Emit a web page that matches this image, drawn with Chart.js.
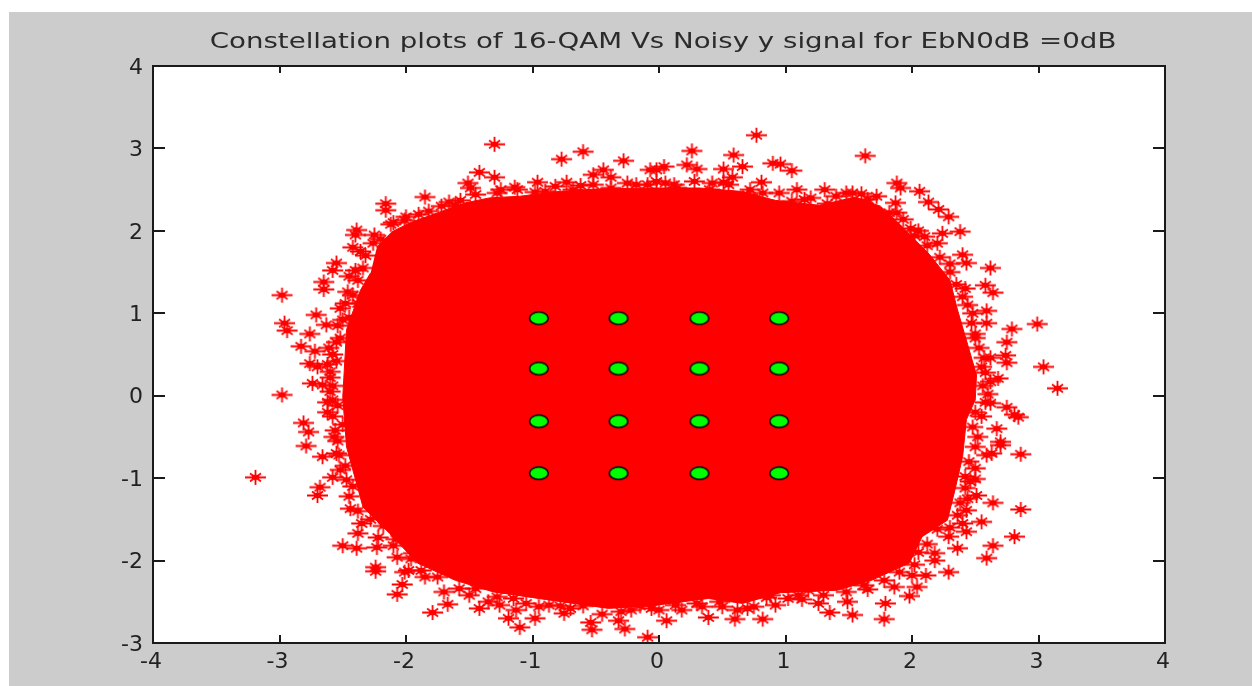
<!DOCTYPE html>
<html>
<head>
<meta charset="utf-8">
<script src="https://cdn.jsdelivr.net/npm/chart.js@4"></script>
<style>
html,body{margin:0;padding:0;background:#fff;width:1252px;height:686px;overflow:hidden}
#panel{position:absolute;left:9px;top:12px;width:1243px;height:674px;background:#cccccc}
#c{position:absolute;left:74px;top:12px}
</style>
</head>
<body>
<div id="panel"></div>
<canvas id="c" width="1178" height="674"></canvas>
<script>
const titleText = 'Constellation plots of 16-QAM Vs Noisy y signal for EbN0dB =0dB';
const xTicks = [-4,-3,-2,-1,0,1,2,3,4];
const yTicks = [-3,-2,-1,0,1,2,3,4];
const qamX = [-0.95,-0.32,0.32,0.95];
const qamY = [0.94,0.33,-0.31,-0.94];
// solid core of the received cloud, read around its edge
const cloudEdge = [[-2.23,1.80],[-2.11,1.99],[-1.95,2.11],[-1.73,2.23],[-1.53,2.34],[-1.34,2.40],[-1.10,2.42],[-0.78,2.48],[-0.47,2.51],[-0.07,2.52],[0.32,2.52],[0.64,2.48],[0.92,2.37],[1.27,2.31],[1.55,2.41],[1.75,2.30],[1.91,2.07],[2.14,1.71],[2.30,1.40],[2.36,1.04],[2.44,0.62],[2.51,0.25],[2.50,-0.05],[2.43,-0.29],[2.40,-0.74],[2.34,-1.14],[2.28,-1.51],[2.08,-1.71],[1.98,-2.03],[1.68,-2.24],[1.41,-2.36],[0.96,-2.39],[0.66,-2.52],[0.39,-2.46],[-0.07,-2.55],[-0.40,-2.58],[-0.86,-2.48],[-1.31,-2.38],[-1.61,-2.24],[-1.91,-2.03],[-2.13,-1.67],[-2.34,-1.35],[-2.47,-0.62],[-2.50,-0.02],[-2.47,0.80],[-2.36,1.28],[-2.28,1.49]];
// individually visible received samples around the cloud
const leftStars = [[-2.98,1.22],[-2.96,0.88],[-2.94,0.79],[-2.98,0.01],[-2.81,-0.33],[-2.77,-0.44],[-2.79,-0.61],[-3.19,-0.99],[-2.66,-0.74],[-2.70,-1.21],[-2.68,-1.11],[-2.57,-0.50],[-2.74,0.15],[-2.66,0.13],[-2.76,0.39],[-2.70,0.35],[-2.83,0.60],[-2.72,0.54],[-2.61,0.58],[-2.76,0.75],[-2.71,0.98],[-2.63,0.86],[-2.65,1.38],[-2.65,1.29],[-2.55,1.61],[-2.58,1.52],[-2.40,1.52],[-2.46,1.26],[-2.52,1.06],[-2.40,1.95],[-2.42,1.80],[-2.26,1.85],[-2.62,-0.08],[-2.62,-0.20],[-2.58,-0.99],[-2.60,0.29],[-2.55,-0.70],[-2.44,-1.37],[-2.50,-1.82],[-2.38,-1.67],[-2.39,-1.85],[-2.24,-2.08],[-2.24,-2.13],[-2.01,-2.14],[-2.03,-2.29],[-2.07,-2.41],[-2.23,-1.84],[-2.07,-1.96],[-1.94,-1.91]];
const bottomStars = [[-1.79,-2.63],[-1.67,-2.53],[-1.42,-2.58],[-1.26,-2.54],[-1.19,-2.70],[-1.10,-2.81],[-0.98,-2.70],[-1.13,-2.60],[-0.75,-2.64],[-0.87,-2.54],[-0.54,-2.75],[-0.53,-2.84],[-0.27,-2.83],[-0.32,-2.73],[-0.09,-2.93],[0.06,-2.73],[-0.06,-2.58],[0.13,-2.54],[0.39,-2.69],[0.34,-2.56],[0.60,-2.71],[0.82,-2.71],[0.70,-2.58],[0.92,-2.54],[1.13,-2.47],[1.35,-2.63],[1.26,-2.52],[1.53,-2.66],[1.49,-2.50],[1.78,-2.71],[1.79,-2.52],[1.98,-2.43],[2.04,-2.32],[2.11,-2.18],[1.86,-2.32]];
const rightStars = [[2.29,-2.14],[2.18,-1.91],[2.36,-1.85],[2.59,-1.97],[2.64,-1.82],[2.81,-1.71],[2.43,-1.65],[2.29,-1.71],[2.55,-1.53],[2.43,-1.39],[2.64,-1.30],[2.86,-1.38],[2.51,-1.21],[2.46,-1.04],[2.86,-0.71],[2.70,-0.60],[2.59,-0.72],[2.62,1.55],[2.43,1.61],[2.40,1.71],[2.58,1.34],[2.64,1.25],[2.59,1.03],[2.59,0.88],[2.79,0.81],[2.99,0.87],[2.75,0.65],[2.74,0.49],[2.75,0.40],[3.04,0.35],[3.15,0.09],[2.68,0.21],[2.62,0.17],[2.62,0.46],[2.62,-0.09],[2.75,-0.14],[2.81,-0.23],[2.84,-0.26],[2.67,-0.40],[2.70,-0.56],[2.63,-0.70],[2.50,-1.01]];
const topStars = [[1.63,2.91],[1.88,2.58],[1.91,2.52],[2.06,2.48],[2.13,2.35],[2.21,2.26],[2.29,2.17],[1.87,2.34],[1.88,2.22],[1.99,2.03],[2.38,1.99],[2.24,1.97],[2.10,1.93],[-1.30,3.05],[-0.77,2.87],[-0.60,2.96],[-0.28,2.85],[-0.44,2.74],[-0.02,2.74],[-0.07,2.74],[0.04,2.78],[0.26,2.97],[0.22,2.80],[0.30,2.75],[0.59,2.92],[0.77,3.16],[0.51,2.75],[0.66,2.78],[0.90,2.82],[0.96,2.81],[1.05,2.73],[-1.42,2.71],[-1.30,2.65],[-1.51,2.58],[-1.49,2.52],[-1.14,2.53],[-0.96,2.59],[-0.73,2.59],[-0.52,2.68],[-0.38,2.65],[-0.09,2.56],[0.14,2.52],[0.51,2.59],[0.58,2.65],[0.81,2.59],[1.09,2.50],[1.31,2.50],[1.53,2.46],[-1.57,2.37],[-1.85,2.41],[-2.16,2.33],[-2.16,2.25],[-2.39,2.01],[-2.01,2.13],[-1.61,2.31]];
const fringeStars = [[-2.45,1.45],[-2.38,1.12],[-2.45,0.95],[-2.52,0.70],[-2.55,0.42],[-2.58,0.12],[-2.54,-0.12],[-2.50,-0.35],[-2.48,-0.85],[-2.42,-1.10],[-2.35,-1.55],[-2.22,-1.72],[-2.10,-1.82],[-1.98,-2.12],[-1.85,-2.20],[-1.70,-2.38],[-1.50,-2.42],[-1.35,-2.50],[-1.05,-2.52],[-0.70,-2.58],[-0.22,-2.60],[0.18,-2.60],[0.50,-2.56],[0.85,-2.45],[1.10,-2.42],[1.65,-2.35],[2.00,-2.18],[2.18,-2.00],[2.40,-1.55],[2.44,-1.25],[2.50,-0.88],[2.52,-0.50],[2.55,-0.25],[2.60,0.02],[2.55,0.35],[2.50,0.70],[2.48,1.00],[2.42,1.30],[2.30,1.60],[2.20,1.85],[2.05,2.00],[1.65,2.38],[1.40,2.42],[1.15,2.38],[0.72,2.50],[0.42,2.58],[0.05,2.58],[-0.25,2.58],[-0.62,2.55],[-0.90,2.48],[-1.25,2.50],[-1.72,2.30],[-1.90,2.20],[-2.10,2.10],[-2.25,1.95],[-2.32,1.70]];
const innerFringeStars = [[-2.20,1.90],[-2.12,2.08],[-2.00,2.17],[-1.82,2.24],[-1.66,2.35],[-1.45,2.44],[-1.28,2.46],[-1.12,2.50],[-0.98,2.47],[-0.82,2.54],[-0.68,2.50],[-0.52,2.56],[-0.38,2.52],[-0.18,2.56],[-0.02,2.60],[0.12,2.56],[0.28,2.60],[0.40,2.50],[0.55,2.56],[0.70,2.44],[0.82,2.46],[0.95,2.46],[1.05,2.36],[1.20,2.40],[1.33,2.33],[1.48,2.46],[1.60,2.45],[1.72,2.42],[1.82,2.22],[1.93,2.14],[2.02,1.94],[2.12,1.82],[2.22,1.68],[2.30,1.50],[2.35,1.35],[2.40,1.20],[2.44,1.10],[2.47,0.88],[2.50,0.75],[2.53,0.58],[2.57,0.46],[2.58,0.28],[2.56,0.12],[2.58,-0.08],[2.50,-0.20],[2.48,-0.38],[2.50,-0.62],[2.45,-0.80],[2.42,-0.98],[2.42,-1.12],[2.38,-1.30],[2.36,-1.45],[2.30,-1.60],[2.20,-1.62],[2.12,-1.80],[2.05,-1.90],[2.02,-2.05],[1.90,-2.14],[1.78,-2.24],[1.62,-2.30],[1.48,-2.38],[1.30,-2.42],[1.18,-2.36],[1.02,-2.46],[0.88,-2.42],[0.75,-2.56],[0.62,-2.60],[0.48,-2.50],[0.30,-2.52],[0.12,-2.48],[0.00,-2.60],[-0.15,-2.55],[-0.30,-2.62],[-0.45,-2.65],[-0.60,-2.55],[-0.78,-2.55],[-0.95,-2.56],[-1.15,-2.46],[-1.28,-2.44],[-1.45,-2.34],[-1.58,-2.34],[-1.75,-2.20],[-1.88,-2.12],[-1.96,-1.98],[-2.08,-1.74],[-2.18,-1.58],[-2.28,-1.50],[-2.38,-1.40],[-2.45,-1.22],[-2.47,-1.02],[-2.52,-0.90],[-2.53,-0.72],[-2.54,-0.55],[-2.56,-0.42],[-2.58,-0.25],[-2.58,-0.05],[-2.60,0.05],[-2.60,0.22],[-2.62,0.38],[-2.58,0.50],[-2.55,0.65],[-2.54,0.85],[-2.50,0.92],[-2.48,1.12],[-2.42,1.22],[-2.38,1.40],[-2.34,1.55],[-2.36,1.75]];

function toPoints(list){ return list.map(p => ({x:p[0], y:p[1]})); }

// asterisk marker, stretched like the picture
function starSprite(){
  const s = document.createElement('canvas'); s.width = 23; s.height = 17;
  const g = s.getContext('2d');
  g.strokeStyle = '#ff0000'; g.lineWidth = 1.8; g.lineCap = 'butt';
  g.beginPath();
  g.moveTo(1,8.5); g.lineTo(22,8.5);
  g.moveTo(11.5,1); g.lineTo(11.5,16);
  g.moveTo(6,4.5); g.lineTo(17,12.5);
  g.moveTo(17,4.5); g.lineTo(6,12.5);
  g.stroke();
  g.fillStyle = '#ff0000'; g.beginPath(); g.ellipse(11.5,8.5,3.8,2.8,0,0,Math.PI*2); g.fill();
  return s;
}
// green constellation marker, also stretched
function dotSprite(){
  const s = document.createElement('canvas'); s.width = 22; s.height = 16;
  const g = s.getContext('2d');
  g.beginPath(); g.ellipse(11,8,9.3,6.3,0,0,Math.PI*2);
  g.fillStyle = '#00ff00'; g.fill();
  g.strokeStyle = '#000000'; g.lineWidth = 1.5; g.stroke();
  return s;
}

const framePlugin = {
  id:'frame',
  afterLayout(chart){
    // the title of the picture is stretched sideways and centred on the window
    const box = chart.titleBlock;
    if (box && !box._wide){
      const drawTitle = box.draw;
      box.draw = function(){
        const c = chart.ctx, mid = (box.left + box.right)/2;
        c.save(); c.translate(mid + 43.5, 0); c.scale(1.257, 1); c.translate(-mid, 0);
        drawTitle.call(box);
        c.restore();
      };
      box._wide = true;
    }
  },
  beforeDatasetsDraw(chart){
    const a = chart.chartArea, c = chart.ctx;
    c.save(); c.fillStyle = '#ffffff';
    c.fillRect(a.left, a.top, a.right-a.left, a.bottom-a.top);
    c.restore();
  },
  afterDatasetsDraw(chart){
    const a = chart.chartArea, c = chart.ctx;
    const xs = chart.scales.x, ys = chart.scales.y;
    c.save();
    c.strokeStyle = '#1a1a1a'; c.lineWidth = 2;
    c.strokeRect(a.left, a.top, a.right-a.left, a.bottom-a.top);
    c.beginPath();
    xs.ticks.forEach((t,i) => {
      const p = Math.round(xs.getPixelForTick(i));
      c.moveTo(p,a.bottom); c.lineTo(p,a.bottom-8);
      c.moveTo(p,a.top); c.lineTo(p,a.top+7);
    });
    ys.ticks.forEach((t,i) => {
      const p = Math.round(ys.getPixelForTick(i));
      c.moveTo(a.left,p); c.lineTo(a.left+12,p);
      c.moveTo(a.right,p); c.lineTo(a.right-12,p);
    });
    c.stroke();
    c.restore();
  }
};

const star = starSprite(), dot = dotSprite();
const qamPoints = [];
qamY.forEach(y => qamX.forEach(x => qamPoints.push({x, y})));
const allStars = [].concat(leftStars, bottomStars, rightStars, topStars, fringeStars, innerFringeStars);

new Chart(document.getElementById('c'), {
  type:'scatter',
  data:{datasets:[
    {label:'16-QAM', data:qamPoints, pointStyle:dot, pointRadius:8, order:0},
    {label:'Noisy y', data:toPoints(allStars), pointStyle:star, pointRadius:8, order:1},
    {label:'Noisy y core', data:toPoints(cloudEdge), showLine:true, fill:'shape', tension:0,
     backgroundColor:'#ff0000', borderColor:'#ff0000', borderWidth:1, pointRadius:0, order:2}
  ]},
  options:{
    responsive:false, animation:false, events:[],
    layout:{padding:{top:0,left:0,right:87,bottom:0}},
    plugins:{
      legend:{display:false}, tooltip:{enabled:false},
      title:{display:true, text:titleText, color:'#2b2b2b',
        font:{family:'"DejaVu Sans"', size:22, weight:'normal', lineHeight:1.2},
        padding:{top:17,bottom:10.6}}
    },
    scales:{
      x:{type:'linear', min:-4, max:4,
        afterFit(s){ s.height = 43; },
        grid:{display:false}, border:{display:false},
        afterBuildTicks(s){ s.ticks = xTicks.map(v => ({value:v})); },
        ticks:{color:'#222', padding:-2, labelOffset:-2, maxRotation:0, autoSkip:false, font:{family:'"DejaVu Sans"', size:22}}},
      y:{type:'linear', min:-3, max:4,
        afterFit(s){ s.width = 79; },
        grid:{display:false}, border:{display:false},
        afterBuildTicks(s){ s.ticks = yTicks.map(v => ({value:v})); },
        ticks:{color:'#222', padding:2, labelOffset:2, autoSkip:false, font:{family:'"DejaVu Sans"', size:22}}}
    }
  },
  plugins:[framePlugin]
});
</script>
</body>
</html>
